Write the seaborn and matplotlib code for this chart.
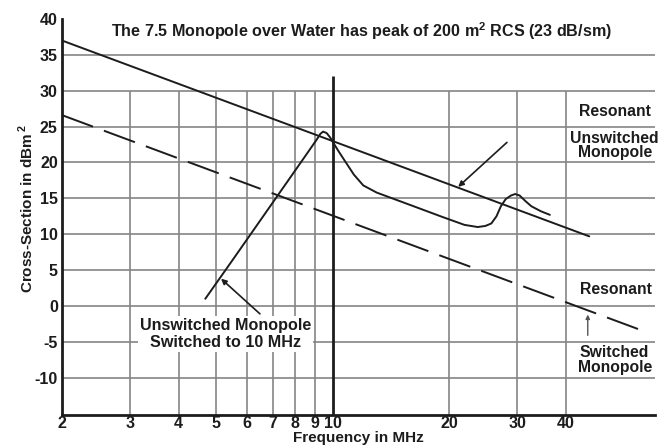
import numpy as np
import pandas as pd
import matplotlib
matplotlib.use("Agg")
import matplotlib.pyplot as plt
import seaborn as sns

# Resonant unswitched monopole (solid straight line)
unswitched_freq = [2.0, 46.0]
unswitched_rcs = [37.0, 9.7]

# Resonant switched monopole (dashed straight line)
switched_freq = [2.0, 65.0]
switched_rcs = [26.6, -3.7]

# Unswitched monopole switched to 10 MHz (curve)
curve_freq = [4.69, 5.5, 6.5, 7.5, 8.5, 9.1, 9.3, 9.45, 9.65, 9.85, 10.0, 10.35, 10.7,
              11.35, 12.0, 13.0, 16.0, 19.0, 21.9, 23.7, 24.8, 25.7, 26.5, 27.2, 28.0,
              28.9, 29.6, 30.4, 31.5, 32.6, 34.5, 36.4]
curve_rcs = [1.0, 6.3, 11.9, 16.7, 20.9, 23.2, 24.0, 24.3, 24.1, 23.5, 22.9, 21.6, 20.4,
             18.3, 16.8, 15.8, 14.0, 12.5, 11.3, 11.0, 11.15, 11.5, 12.5, 13.9, 14.9,
             15.4, 15.6, 15.4, 14.6, 13.9, 13.2, 12.7]

x_ticks = [2, 3, 4, 5, 6, 7, 8, 9, 10, 20, 30, 40]
y_ticks = [-10, -5, 0, 5, 10, 15, 20, 25, 30, 35, 40]
grid_x = [3, 4, 5, 6, 7, 8, 9, 20, 30, 40]
grid_y = [-10, -5, 0, 5, 10, 15, 20, 25, 30, 35]

ink = "#1c1c1c"
grid_color = "#858585"

sns.set_theme(style="white", rc={"axes.facecolor": "white", "figure.facecolor": "white"})
plt.rcParams["font.family"] = ["Liberation Sans", "DejaVu Sans"]
plt.rcParams["font.weight"] = "bold"
plt.rcParams["axes.unicode_minus"] = False
plt.rcParams["mathtext.fontset"] = "custom"
plt.rcParams["mathtext.rm"] = "Liberation Sans:bold"
plt.rcParams["mathtext.bf"] = "Liberation Sans:bold"

fig = plt.figure(figsize=(6.65, 4.48), dpi=100)
ax = fig.add_axes([0.0932, 0.0737, 0.8917, 0.8839])

ymin, ymax = -15.2, 40
xmin, xmax = 2, 68

# grid: horizontal lines full width, vertical lines only up to 30
ax.hlines(grid_y, xmin, xmax, color=grid_color, lw=1.2, zorder=1)
ax.vlines(grid_x, ymin, 30, color=grid_color, lw=1.2, zorder=1)
ax.vlines([10], ymin, 32, color=ink, lw=2.0, zorder=2)

df_u = pd.DataFrame({"freq": unswitched_freq, "rcs": unswitched_rcs})
df_s = pd.DataFrame({"freq": switched_freq, "rcs": switched_rcs})
df_c = pd.DataFrame({"freq": curve_freq, "rcs": curve_rcs})

sns.lineplot(data=df_u, x="freq", y="rcs", color=ink, lw=1.4, sort=False, ax=ax, zorder=3)
sns.lineplot(data=df_s, x="freq", y="rcs", color=ink, lw=1.4, sort=False, ax=ax, zorder=3,
             linestyle=(0, (17, 6)))
sns.lineplot(data=df_c, x="freq", y="rcs", color=ink, lw=1.4, sort=False, ax=ax, zorder=3)

ax.set_xscale("log")
ax.set_xlim(xmin, xmax)
ax.set_ylim(ymin, ymax)
ax.set_xticks(x_ticks)
ax.set_xticklabels([str(t) for t in x_ticks])
ax.set_yticks(y_ticks)
ax.minorticks_off()
ax.tick_params(axis="both", labelsize=11.5, colors=ink, direction="in", length=6, width=1.5)
ax.tick_params(axis="x", pad=1, length=0)
ax.tick_params(axis="y", pad=3)

sns.despine(ax=ax)
for side in ["left", "bottom"]:
    ax.spines[side].set_linewidth(2.0)
    ax.spines[side].set_color(ink)

ax.set_xlabel("Frequency in MHz", fontsize=11, fontweight="bold", color=ink, labelpad=0)
ax.set_ylabel(r"Cross-Section in dBm$^{\,2}$", fontsize=11, fontweight="bold", color=ink)
ax.yaxis.set_label_coords(-0.043, 0.52)

ax.text(11.9, 37.5, r"The 7.5 Monopole over Water has peak of 200 m$^2$ RCS (23 dB/sm)",
        ha="center", va="baseline", fontsize=11.6, color=ink)

ax.text(53.5, 27.1, "Resonant", ha="center", va="center", fontsize=11.3, color=ink)
ax.text(53.5, 22.4, "Unswitched\nMonopole", ha="center", va="center", fontsize=11.3,
        color=ink, linespacing=0.95)
ax.text(54, 2.3, "Resonant", ha="center", va="center", fontsize=11.3, color=ink)
ax.text(53.5, -7.5, "Switched\nMonopole", ha="center", va="center", fontsize=11.3,
        color=ink, linespacing=1.0)
ax.text(5.29, -3.9, "Unswitched Monopole\nSwitched to 10 MHz", ha="center", va="center",
        fontsize=11.6, color=ink, zorder=4,
        bbox=dict(facecolor="white", edgecolor="none", pad=1))

arrow_kw = dict(arrowstyle="-|>", color=ink, lw=1.2, mutation_scale=8, shrinkA=0, shrinkB=0)
ax.annotate("", xy=(21.1, 16.6), xytext=(28.2, 22.8), arrowprops=arrow_kw, zorder=5)
ax.annotate("", xy=(5.15, 3.8), xytext=(6.49, -1.1), arrowprops=arrow_kw, zorder=5)
ax.annotate("", xy=(45.6, -1.2), xytext=(45.6, -4.1),
            arrowprops=dict(arrowstyle="-|>", color="#555555", lw=1.0, mutation_scale=6,
                            shrinkA=0, shrinkB=0), zorder=5)

fig.savefig("out.png", dpi=100, facecolor="white")
